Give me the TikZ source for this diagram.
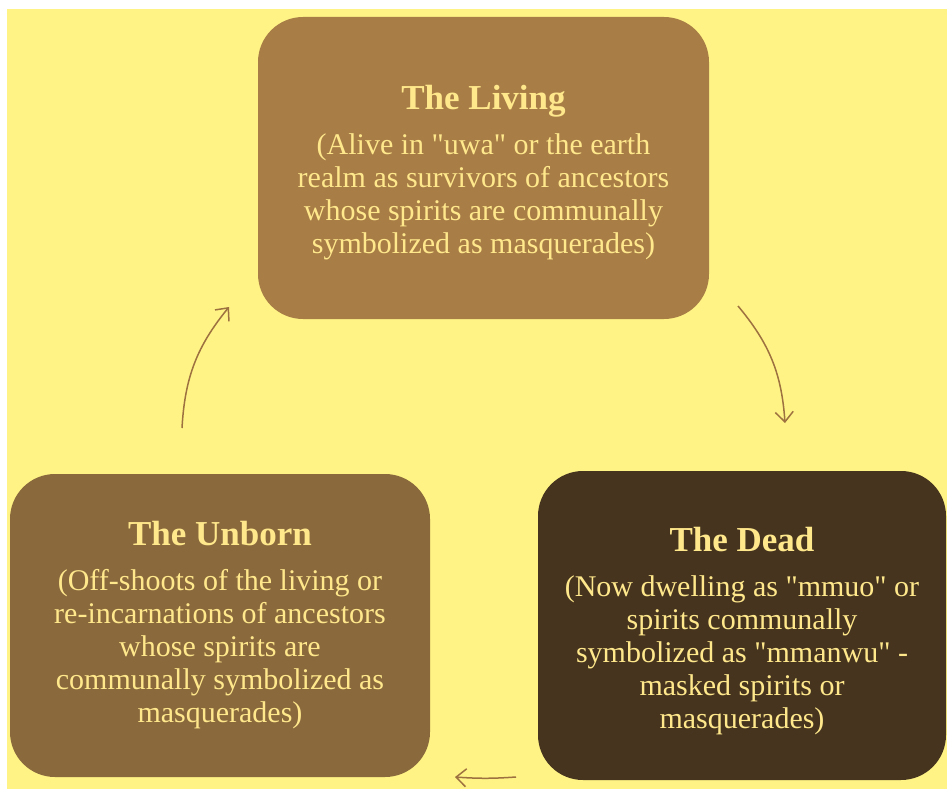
\documentclass[tikz,border=0pt]{standalone}
\usepackage{fontspec}
\setmainfont{Liberation Serif}
\usetikzlibrary{arrows.meta}

\definecolor{bgyellow}{HTML}{FFF385}
\definecolor{livingbrown}{HTML}{A87D46}
\definecolor{unbornbrown}{HTML}{8A693C}
\definecolor{deadbrown}{HTML}{46341F}
\definecolor{boxtext}{HTML}{FFE88C}
\definecolor{arrowbrown}{HTML}{9E7240}

\tikzset{
  realm/.style={rounded corners=45pt,inner sep=0pt},
  realm text/.style={inner sep=0pt,align=center,
                text=boxtext,font=\fontsize{30}{33}\selectfont},
  cycle/.style={arrowbrown,line width=1.5pt,
                -{Straight Barb[length=10pt,width=18pt,line width=1.5pt]}}
}
\newcommand{\realmtitle}[1]{{\fontsize{35}{40}\selectfont\bfseries #1}\\[12pt]}
\newcommand{\qtd}[1]{\textquotedbl#1\textquotedbl}

\begin{document}
\begin{tikzpicture}[x=1pt,y=-1pt]
  \path[use as bounding box,fill=white] (0,0) rectangle (947,789);
  \fill[bgyellow] (7,9) rectangle (947,789);

  \node[realm,fill=livingbrown,minimum width=451pt,minimum height=302pt]
    (living) at (483.5,168) {};
  \node[realm text] (livingtext) at ([yshift=-4.5pt]living.center)
    {\realmtitle{The Living}
     (Alive in \qtd{uwa} or the earth\\
     realm as survivors of ancestors\\
     whose spirits are communally\\
     symbolized as masquerades)};

  \node[realm,fill=deadbrown,minimum width=408pt,minimum height=309pt]
    (dead) at (742,625.5) {};
  \node[realm text] (deadtext) at ([yshift=-6pt]dead.center)
    {\realmtitle{The Dead}
     (Now dwelling as \qtd{mmuo} or\\
     spirits communally\\
     symbolized as \qtd{mmanwu} -\\
     masked spirits or\\
     masquerades)};

  \node[realm,fill=unbornbrown,minimum width=420pt,minimum height=303pt]
    (unborn) at (220,625.5) {};
  \node[realm text] (unborntext) at (unborn.center)
    {\realmtitle{The Unborn}
     (Off-shoots of the living or\\
     re-incarnations of ancestors\\
     whose spirits are\\
     communally symbolized as\\
     masquerades)};

  % ends of the cycle arrows
  \coordinate (livingout) at (738,306);
  \coordinate (deadin) at (785,423);
  \coordinate (deadout) at (516,777);
  \coordinate (unbornin) at (455,777);
  \coordinate (unbornout) at (182,428);
  \coordinate (livingin) at (229,307);

  \draw[cycle] (livingout) to[bend left=18] (deadin);
  \draw[cycle] (deadout) to[bend left=4] (unbornin);
  \draw[cycle] (unbornout) to[bend left=18] (livingin);
\end{tikzpicture}
\end{document}
